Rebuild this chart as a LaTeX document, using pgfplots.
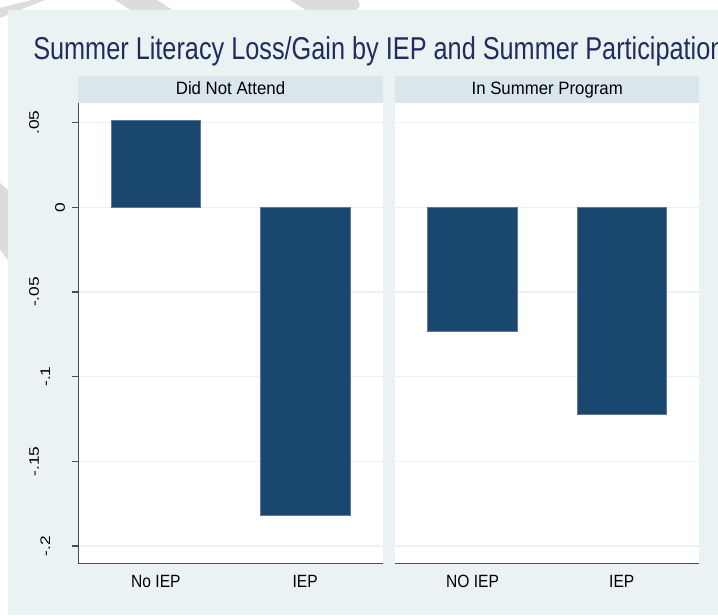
\documentclass[border=0pt]{standalone}
\usepackage{pgfplots}
\pgfplotsset{compat=1.18}
\usepackage{fontspec}
\setmainfont{Liberation Sans}[FakeStretch=0.88]
\newfontfamily\titlefont{Liberation Sans}[FakeStretch=0.80]
\newfontfamily\hdrfont{Liberation Sans}[FakeStretch=0.94]
\newfontfamily\plainfont{Liberation Sans}

\definecolor{stnavy}{RGB}{26,71,111}
\definecolor{baredge}{RGB}{95,120,150}
\definecolor{ltbg}{RGB}{234,242,243}
\definecolor{hdrbg}{RGB}{217,230,235}
\definecolor{gridc}{RGB}{234,242,243}
\definecolor{titlec}{RGB}{32,46,92}
\definecolor{axisc}{RGB}{77,77,77}
\definecolor{deco}{RGB}{220,220,220}

% rotated y label, pushed left by #2
\newcommand\yl[2]{\rotatebox{90}{\scalebox{1}[0.8]{\plainfont\fontsize{13}{15}\selectfont #1}}\hspace*{#2}}

\pgfplotsset{
  panel/.style={
    scale only axis, width=228.3pt, height=345.45pt,
    xmin=0.48, xmax=2.52, ymin=-0.2102, ymax=0.0617,
    ybar, bar width=0.6,
    axis background/.style={fill=white},
    axis x line*=bottom, axis y line*=left,
    axis line style={draw=axisc, line width=0.9pt},
    xtick={1,2}, xtick align=inside,
    major x tick style={draw=none},
    ytick={-0.2,-0.15,-0.1,-0.05,0,0.05},
    ytick align=outside, major tick length=4.5pt,
    major y tick style={draw=axisc, line width=0.9pt},
    ymajorgrids, grid style={draw=gridc, line width=1pt},
    xticklabel style={font=\fontsize{13.3}{15}\selectfont, anchor=base, inner sep=0pt, yshift=-18.2pt},
    yticklabel style={anchor=east, inner sep=0pt},
    /pgf/number format/assume math mode=true,
  },
  bars/.style={fill=stnavy, draw=baredge, line width=0.5pt},
}

\begin{document}
\begin{tikzpicture}[x=0.75pt, y=0.75pt]
\useasboundingbox (0,0) rectangle (718,615);
\fill[white] (0,0) rectangle (718,615);
% slide decoration
\fill[deco] (115,615) -- (157,615) -- (188,595) -- (146,595) -- cycle;
\fill[deco] (290,615) -- (358,615) -- (360,609) -- (352,601) -- (312,601) -- cycle;
\fill[deco] (32,615) -- (45,615) -- (0,597) -- (0,607) -- cycle;
\fill[deco] (0,432) -- (8,425) -- (8,355) -- (0,365) -- cycle;
% graph region
\fill[ltbg] (8,0) rectangle (718,605);

\node[anchor=base west, inner sep=0pt, text=titlec, font=\titlefont\fontsize{23.7}{28}\selectfont]
  at (33,555.7) {Summer Literacy Loss/Gain by IEP and Summer Participation};

\begin{axis}[panel, at={(58.725pt,38.775pt)}, anchor=south west,
  xticklabels={No IEP, IEP},
  yticklabels={\yl{-.2}{16.5pt}, \yl{-.15}{24.75pt}, \yl{-.1}{16.5pt},
               \yl{-.05}{24.75pt}, \yl{0}{5.25pt}, \yl{.05}{24.75pt}}]
\addplot[bars] coordinates {(1,0.0511) (2,-0.1817)};
\end{axis}

\begin{axis}[panel, at={(296.25pt,38.775pt)}, anchor=south west,
  y axis line style={draw=none}, major y tick style={draw=none},
  yticklabels={},
  xticklabels={NO IEP, IEP}]
\addplot[bars] coordinates {(1,-0.0735) (2,-0.1223)};
\end{axis}

% by-group headers
\fill[hdrbg] (78.3,512.3) rectangle (382.7,539);
\fill[hdrbg] (395,512.3) rectangle (699.4,539);
\node[anchor=base, inner sep=0pt, font=\hdrfont\fontsize{13.4}{16}\selectfont] at (230.5,520) {Did Not Attend};
\node[anchor=base, inner sep=0pt, font=\hdrfont\fontsize{13.4}{16}\selectfont] at (547.2,520) {In Summer Program};
\end{tikzpicture}
\end{document}
